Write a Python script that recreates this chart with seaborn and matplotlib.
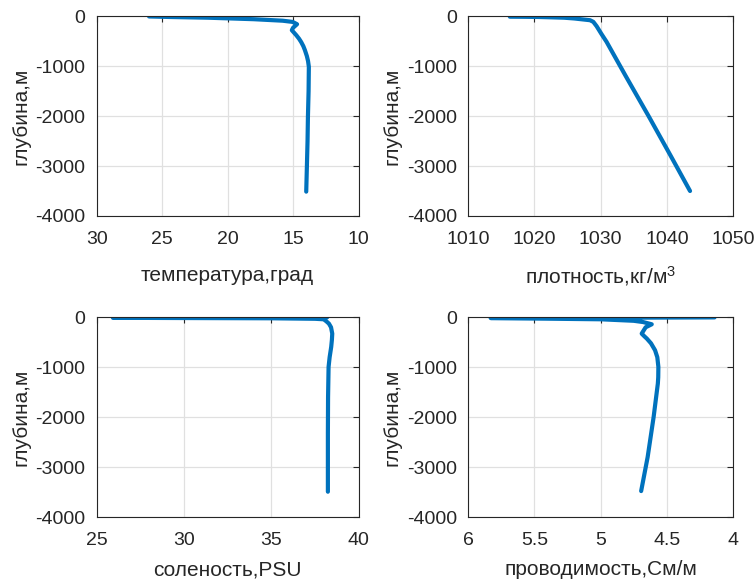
import matplotlib
matplotlib.use("Agg")
import pandas as pd
import matplotlib.pyplot as plt
import seaborn as sns

# depth profiles (depth in m, negative down)
temp_depth = [-5, -15, -30, -60, -90, -114, -160, -230, -280, -380, -450, -520, -600, -680, -800, -900, -1013, -1500, -2013, -2500, -3013, -3513]
temp_vals = [26.0, 24.5, 21.5, 18.0, 15.8, 15.04, 14.7, 15.0, 15.1, 14.76, 14.55, 14.38, 14.22, 14.1, 13.95, 13.86, 13.8, 13.82, 13.87, 13.9, 13.95, 14.0]

dens_depth = [-10, -12, -15, -20, -30, -45, -80, -113, -200, -350, -513, -1200, -2013, -2800, -3500]
dens_vals = [1016.3, 1018.5, 1020.5, 1022.0, 1024.5, 1026.0, 1028.4, 1028.9, 1029.4, 1030.1, 1030.9, 1033.8, 1037.3, 1040.6, 1043.5]

sal_depth = [0, -5, -10, -15, -20, -30, -40, -80, -127, -200, -327, -450, -593, -800, -993, -1600, -2327, -3000, -3493]
sal_vals = [38.2, 32.0, 25.93, 30.0, 35.0, 37.5, 38.0, 38.15, 38.3, 38.42, 38.49, 38.47, 38.43, 38.34, 38.28, 38.25, 38.24, 38.24, 38.24]

cond_depth = [-2, -10, -15, -25, -40, -70, -95, -140, -200, -327, -380, -427, -520, -660, -800, -993, -1200, -1327, -2000, -2800, -3480]
cond_vals = [4.14, 5.0, 5.83, 5.5, 5.0, 4.75, 4.68, 4.614, 4.66, 4.69, 4.67, 4.651, 4.62, 4.589, 4.572, 4.564, 4.565, 4.568, 4.60, 4.645, 4.694]

depth_ticks = [0, -1000, -2000, -3000, -4000]

panels = [
    ("температура,град", temp_vals, temp_depth, (30, 10), [30, 25, 20, 15, 10], ["30", "25", "20", "15", "10"]),
    ("плотность,кг/м$^{3}$", dens_vals, dens_depth, (1010, 1050), [1010, 1020, 1030, 1040, 1050], ["1010", "1020", "1030", "1040", "1050"]),
    ("соленость,PSU", sal_vals, sal_depth, (25, 40), [25, 30, 35, 40], ["25", "30", "35", "40"]),
    ("проводимость,См/м", cond_vals, cond_depth, (6, 4), [6, 5.5, 5, 4.5, 4], ["6", "5.5", "5", "4.5", "4"]),
]

# axes rectangles in figure fractions (left, bottom, width, height)
rects = [
    [0.128, 0.627, 0.347, 0.345],
    [0.620, 0.627, 0.351, 0.345],
    [0.128, 0.107, 0.347, 0.345],
    [0.620, 0.107, 0.351, 0.345],
]
xlabel_y = [-0.30, -0.30, -0.265, -0.265]

sns.set_style("white")
plt.rcParams['font.family'] = ['Liberation Sans', 'DejaVu Sans']
plt.rcParams['mathtext.fontset'] = 'custom'
plt.rcParams['mathtext.rm'] = 'Liberation Sans'
plt.rcParams['mathtext.it'] = 'Liberation Sans'
plt.rcParams['mathtext.default'] = 'rm'

fig = plt.figure(figsize=(7.55, 5.79), dpi=100)

for i, (rect, (xlabel, xs, ys, xlim, xt, xtl)) in enumerate(zip(rects, panels)):
    ax = fig.add_axes(rect)
    df = pd.DataFrame({"x": xs, "y": ys})
    sns.lineplot(data=df, x="x", y="y", sort=False, estimator=None,
                 color="#0072bd", linewidth=3, ax=ax)
    ax.set_xlim(*xlim)
    ax.set_ylim(-4000, 0)
    ax.set_xticks(xt)
    ax.set_xticklabels(xtl)
    ax.set_yticks(depth_ticks)
    ax.set_yticklabels([str(t) for t in depth_ticks])
    ax.grid(True, color="#e0e0e0", linewidth=0.9)
    ax.set_axisbelow(True)
    for s in ax.spines.values():
        s.set_color("#262626")
        s.set_linewidth(0.8)
    ax.tick_params(direction="in", length=4, width=0.8, color="#262626",
                   labelsize=14, labelcolor="#262626", top=True, right=True, pad=8)
    ax.tick_params(axis="x", pad=11)
    ax.set_xlabel(xlabel, fontsize=15, color="#262626", va="center")
    ax.set_ylabel("глубина,м", fontsize=15, color="#262626", va="center")
    ax.xaxis.set_label_coords(0.5, xlabel_y[i])
    ax.yaxis.set_label_coords(-0.287, 0.5)

fig.savefig("out.png", dpi=100)
plt.close(fig)
